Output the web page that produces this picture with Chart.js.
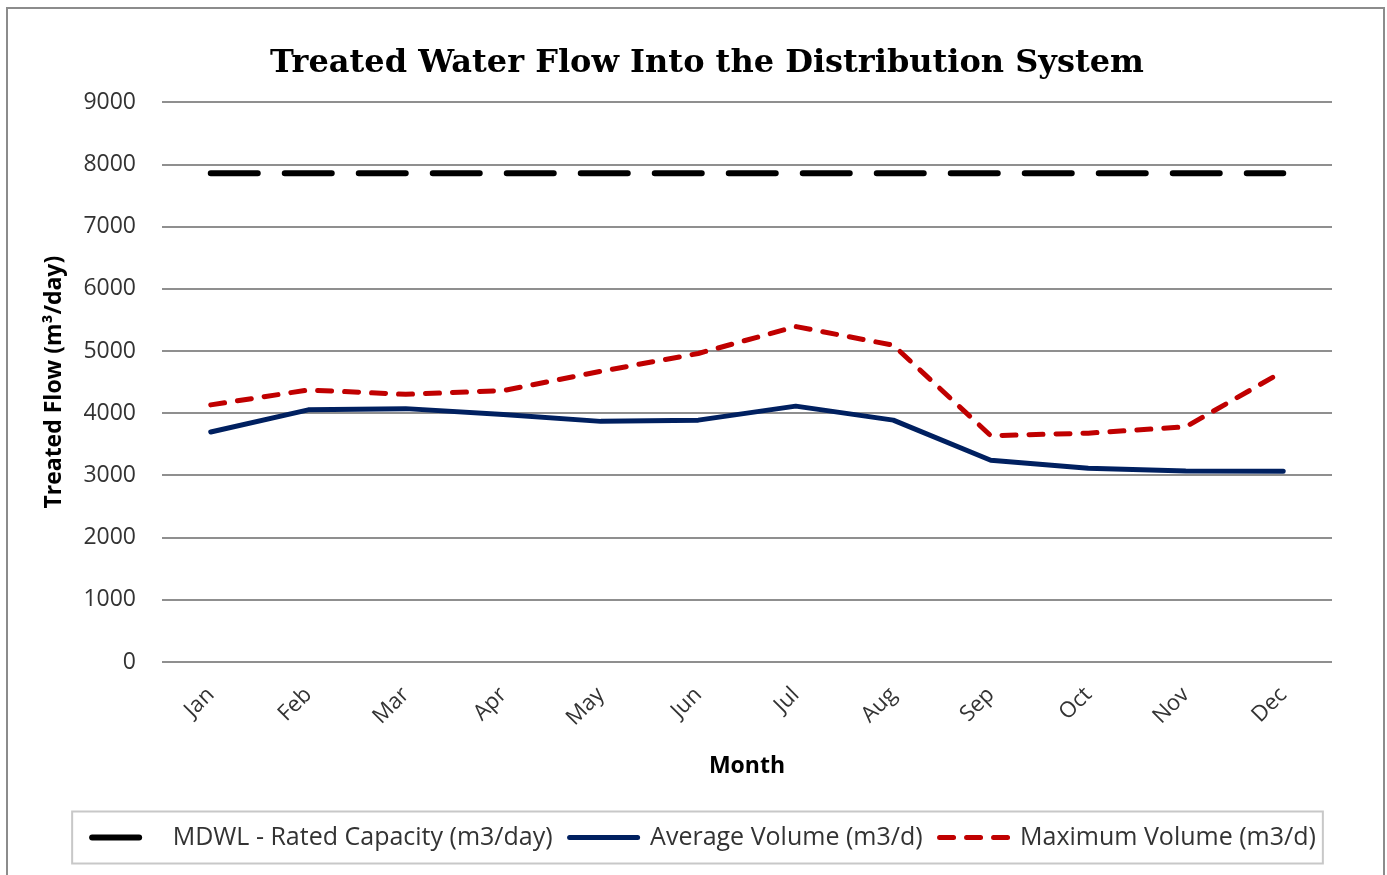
<!DOCTYPE html>
<html>
<head>
<meta charset="utf-8">
<script src="https://cdn.jsdelivr.net/npm/chart.js@4.4.1/dist/chart.umd.min.js"></script>
<style>
  html, body { margin: 0; padding: 0; background: #ffffff; }
  #wrap { width: 1387px; height: 875px; }
</style>
</head>
<body>
<div id="wrap"><canvas id="flowChart" width="1387" height="875"></canvas></div>
<script>
// Monthly treated water flow (m3/day)
const months = ['Jan', 'Feb', 'Mar', 'Apr', 'May', 'Jun', 'Jul', 'Aug', 'Sep', 'Oct', 'Nov', 'Dec'];
const ratedCapacity = [7860, 7860, 7860, 7860, 7860, 7860, 7860, 7860, 7860, 7860, 7860, 7860];
const averageVolume = [3700, 4055, 4075, 3980, 3870, 3890, 4115, 3890, 3245, 3115, 3070, 3068];
const maximumVolume = [4135, 4375, 4305, 4365, 4675, 4962, 5395, 5095, 3640, 3680, 3782, 4675];
const flowTicks = [0, 1000, 2000, 3000, 4000, 5000, 6000, 7000, 8000, 9000];

const seriesNames = [
  'MDWL - Rated Capacity (m3/day)',
  'Average Volume (m3/d)',
  'Maximum Volume (m3/d)'
];

const SANS = '"Open Sans", "DejaVu Sans", sans-serif';

// Outer chart frame and the box around the legend
const framePlugin = {
  id: 'frames',
  beforeDraw(chart) {
    const ctx = chart.ctx;
    ctx.save();
    ctx.fillStyle = '#ffffff';
    ctx.fillRect(0, 0, chart.width, chart.height);
    ctx.strokeStyle = '#8c8c8c';
    ctx.lineWidth = 2;
    ctx.strokeRect(7, 8, 1377, chart.height + 20);
    ctx.restore();
  },
  afterDraw(chart) {
    const boxes = chart.legend && chart.legend.legendHitBoxes;
    if (!boxes || !boxes.length) return;
    const first = boxes[0];
    const last = boxes[boxes.length - 1];
    const left = first.left - 20;
    const right = last.left + last.width + 7;
    const midY = first.top + first.height / 2;
    const ctx = chart.ctx;
    ctx.save();
    ctx.strokeStyle = '#c8c8c8';
    ctx.lineWidth = 2;
    ctx.strokeRect(left, midY - 26, right - left, 52);
    ctx.restore();
  }
};

// Centre the title and legend on the outer frame rather than the padded area
const blockOffsetPlugin = {
  id: 'blockOffset',
  afterLayout(chart) {
    const t = chart.titleBlock;
    if (t) { t.left += 37; t.right += 37; }
    const l = chart.legend;
    if (l) { l.left += 34; l.right += 34; }
  }
};

// Legend samples reuse each series' own stroke (dash, width, round caps)
function legendLabels(chart) {
  const items = Chart.defaults.plugins.legend.labels.generateLabels(chart);
  items.forEach((item) => {
    const ds = chart.data.datasets[item.datasetIndex];
    item.lineDash = ds.borderDash || [];
    item.lineCap = 'round';
    item.lineWidth = ds.borderWidth;
    item.strokeStyle = ds.borderColor;
    item.fillStyle = ds.borderColor;
  });
  return items;
}

new Chart(document.getElementById('flowChart'), {
  type: 'line',
  data: {
    labels: months,
    datasets: [
      {
        label: seriesNames[0],
        data: ratedCapacity,
        borderColor: '#000000',
        backgroundColor: '#000000',
        borderWidth: 6,
        borderDash: [47, 27],
        borderCapStyle: 'round',
        borderJoinStyle: 'round',
        pointRadius: 0,
        pointHoverRadius: 0,
        pointStyle: 'line',
        pointRotation: 180,
        tension: 0,
        fill: false
      },
      {
        label: seriesNames[1],
        data: averageVolume,
        borderColor: '#002060',
        backgroundColor: '#002060',
        borderWidth: 5,
        borderCapStyle: 'round',
        borderJoinStyle: 'round',
        pointRadius: 0,
        pointHoverRadius: 0,
        pointStyle: 'line',
        pointRotation: 180,
        tension: 0,
        fill: false
      },
      {
        label: seriesNames[2],
        data: maximumVolume,
        borderColor: '#c00000',
        backgroundColor: '#c00000',
        borderWidth: 5,
        borderDash: [14, 13],
        borderCapStyle: 'round',
        borderJoinStyle: 'round',
        pointRadius: 0,
        pointHoverRadius: 0,
        pointStyle: 'line',
        pointRotation: 180,
        tension: 0,
        fill: false
      }
    ]
  },
  options: {
    responsive: false,
    animation: false,
    devicePixelRatio: 1,
    layout: { padding: { left: 8, right: 55, top: 10, bottom: 15 } },
    plugins: {
      title: {
        display: true,
        text: 'Treated Water Flow Into the Distribution System',
        color: '#000000',
        font: { family: '"DejaVu Serif", serif', size: 32, weight: 'bold' },
        padding: { top: 34, bottom: 20 }
      },
      legend: {
        display: true,
        position: 'bottom',
        labels: {
          usePointStyle: true,
          pointStyleWidth: 68,
          padding: 17,
          color: '#333333',
          font: { family: SANS, size: 25 },
          generateLabels: legendLabels
        }
      },
      tooltip: { enabled: false }
    },
    scales: {
      x: {
        offset: true,
        grid: { display: false, drawTicks: false },
        border: { display: false },
        ticks: {
          autoSkip: false,
          minRotation: 45,
          maxRotation: 45,
          padding: 20,
          color: '#333333',
          font: { family: SANS, size: 22 }
        },
        title: {
          display: true,
          text: 'Month',
          color: '#000000',
          font: { family: SANS, size: 23, weight: 'bold' },
          padding: { top: 0, bottom: 28 }
        },
        afterFit(scale) { scale.height = 146; }
      },
      y: {
        min: 0,
        max: 9000,
        afterBuildTicks(scale) { scale.ticks = flowTicks.map(v => ({ value: v })); },
        grid: { color: '#8f8f8f', lineWidth: 2, drawTicks: false },
        border: { display: false },
        ticks: {
          padding: 26,
          color: '#333333',
          font: { family: SANS, size: 23 },
          callback: (v) => String(v)
        },
        title: {
          display: true,
          text: 'Treated Flow (m³/day)',
          color: '#000000',
          font: { family: SANS, size: 23, weight: 'bold' },
          padding: { top: 33, bottom: 0 }
        },
        afterFit(scale) { scale.width = 154; }
      }
    }
  },
  plugins: [framePlugin, blockOffsetPlugin]
});
</script>
</body>
</html>
